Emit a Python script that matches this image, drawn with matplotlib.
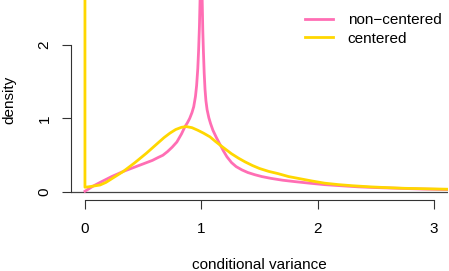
import matplotlib
matplotlib.use("Agg")
import matplotlib.pyplot as plt

plt.rcParams["font.family"] = ["Liberation Sans", "DejaVu Sans"]
plt.rcParams["font.size"] = 11

# non-centered density
nc_x = [0.0, 0.03, 0.07, 0.13, 0.18, 0.23, 0.28, 0.33, 0.38, 0.43, 0.48, 0.53, 0.58,
        0.63, 0.67, 0.71, 0.75, 0.79, 0.83, 0.86, 0.88, 0.90, 0.92, 0.935, 0.95,
        0.96, 0.97, 0.977, 0.984, 0.99, 0.995, 1.0,
        1.003, 1.008, 1.013, 1.018, 1.025, 1.032, 1.04, 1.05, 1.065, 1.08, 1.10,
        1.13, 1.16, 1.19, 1.22, 1.26, 1.30, 1.35, 1.40, 1.46, 1.52, 1.60, 1.70,
        1.81, 1.93, 2.06, 2.20, 2.35, 2.50, 2.70, 2.90, 3.20]
nc_y = [0.01, 0.04, 0.08, 0.13, 0.17, 0.21, 0.245, 0.28, 0.31, 0.34, 0.37, 0.40, 0.43,
        0.47, 0.50, 0.55, 0.61, 0.68, 0.79, 0.89, 0.94, 1.00, 1.08, 1.16, 1.30,
        1.45, 1.68, 1.93, 2.25, 2.65, 3.10, 3.60,
        3.10, 2.60, 2.20, 1.93, 1.62, 1.40, 1.24, 1.12, 1.01, 0.93, 0.84,
        0.74, 0.65, 0.56, 0.48, 0.40, 0.345, 0.30, 0.265, 0.235, 0.21, 0.185, 0.16,
        0.14, 0.12, 0.10, 0.085, 0.07, 0.06, 0.05, 0.04, 0.03]

# centered density (spike at zero)
c_x = [0.0, 0.0, 0.03, 0.07, 0.13, 0.18, 0.23, 0.28, 0.33, 0.38, 0.43, 0.48, 0.53,
       0.58, 0.63, 0.68, 0.73, 0.78, 0.83, 0.87, 0.92, 0.97, 1.02, 1.075, 1.12,
       1.16, 1.21, 1.26, 1.32, 1.376, 1.44, 1.50, 1.58, 1.66, 1.75, 1.85, 1.95,
       2.06, 2.18, 2.30, 2.45, 2.59, 2.75, 2.90, 3.05, 3.20]
c_y = [3.0, 0.065, 0.07, 0.08, 0.095, 0.13, 0.18, 0.23, 0.28, 0.34, 0.40, 0.465, 0.53,
       0.60, 0.67, 0.74, 0.80, 0.85, 0.88, 0.89, 0.875, 0.84, 0.80, 0.75, 0.69,
       0.64, 0.58, 0.52, 0.46, 0.41, 0.36, 0.32, 0.28, 0.25, 0.21, 0.18, 0.15,
       0.12, 0.10, 0.085, 0.07, 0.06, 0.05, 0.045, 0.04, 0.035]

W, H = 449, 271
fig = plt.figure(figsize=(W / 100, H / 100), dpi=100)
ax = fig.add_axes([71 / W, (H - 200) / H, (448 - 71) / W, 200 / H])

ax.axhline(0, color="#444444", lw=0.9, zorder=1)
ax.plot(nc_x, nc_y, color="#FF6EB4", lw=2.0, label="non\u2212centered", zorder=2)
ax.plot(c_x, c_y, color="#FFD700", lw=2.0, label="centered", zorder=3)

ax.set_xlim(-0.12, 3.121)
ax.set_ylim(-0.109, 2.612)
ax.set_xticks([0, 1, 2, 3])
ax.set_yticks([0, 1, 2])
ax.set_yticklabels(["0", "1", "2"], rotation=90, rotation_mode="default",
                   ha="right", va="center")

for s in ["top", "right"]:
    ax.spines[s].set_visible(False)
ax.spines["left"].set_bounds(0, 2)
ax.spines["bottom"].set_bounds(0, 3)
for s in ["left", "bottom"]:
    ax.spines[s].set_color("#333333")
    ax.spines[s].set_linewidth(0.8)

ax.tick_params(direction="out", length=6.5, width=0.8, color="#333333", labelsize=11)
ax.tick_params(axis="x", pad=9.5)
ax.tick_params(axis="y", pad=7.5)

fig.text(259.5 / W, 1 - 269 / H, "conditional variance", ha="center", va="baseline", fontsize=11)
fig.text(9.5 / W, 1 - 100 / H, "density", ha="center", va="center", rotation=90, fontsize=11)

ax.legend(loc="upper left", bbox_to_anchor=(305 / W, 1 - 13.4 / H), bbox_transform=fig.transFigure,
          frameon=False, borderpad=0, borderaxespad=0, handlelength=1.85, handletextpad=0.95,
          labelspacing=0.285, fontsize=11)

fig.savefig("out.png", dpi=100)
